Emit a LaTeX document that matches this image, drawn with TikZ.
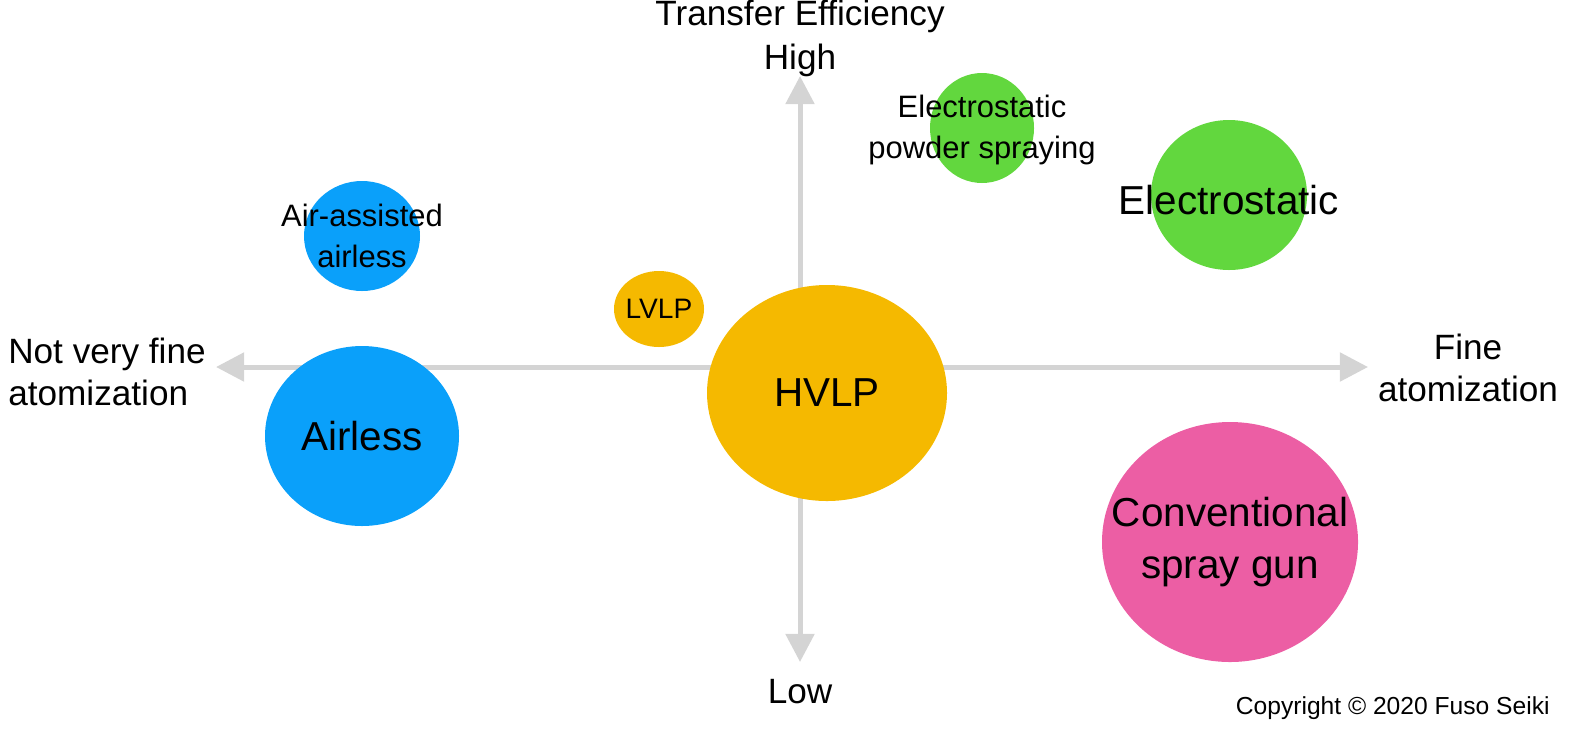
\documentclass[tikz,border=0pt]{standalone}
\usepackage{fontspec}
\setmainfont{Liberation Sans}
\usetikzlibrary{arrows.meta}

\definecolor{axisgray}{RGB}{212,212,212}
\definecolor{sprayblue}{RGB}{10,160,250}
\definecolor{sprayorange}{RGB}{245,185,0}
\definecolor{spraygreen}{RGB}{98,215,62}
\definecolor{spraypink}{RGB}{236,94,164}

\tikzset{
  axis/.style={draw=axisgray, line width=5pt*0.284, -{Triangle[length=8pt,width=8pt]}},
  blob/.style={fill=#1, draw=none},
  lbl/.style={align=center, font=\fontsize{10}{12}\selectfont},
  big/.style={align=center, font=\fontsize{11.5}{15}\selectfont},
  small/.style={align=center, font=\fontsize{8.8}{11.5}\selectfont}
}

\begin{document}
\begin{tikzpicture}[x=0.01cm, y=-0.01cm]
\useasboundingbox (0,0) rectangle (1586,730);

\coordinate (origin) at (800,367);
\coordinate (east) at (1368,367);
\coordinate (west) at (216,367);
\coordinate (north) at (800,76);
\coordinate (south) at (800,662);
\draw[axis] (origin) -- (east);
\draw[axis] (origin) -- (west);
\draw[axis] (origin) -- (north);
\draw[axis] (origin) -- (south);

\node[lbl] (teff) at (800,16) {Transfer Efficiency};
\node[lbl] (high) at (800,60) {High};
\node[lbl] (low) at (800,692) {Low};
\node[lbl, align=left] (coarse) at (107,372) {Not very fine\\atomization};
\node[lbl] (fine) at (1468,368) {Fine\\atomization};

% spray methods
\fill[blob=sprayblue] (362,236) ellipse [x radius=58, y radius=55];
\node[small] (aaa) at (362,236) {Air-assisted\\airless};
\fill[blob=sprayblue] (362,436) ellipse [x radius=97, y radius=90];
\node[big] (airless) at (362,436) {Airless};
\fill[blob=sprayorange] (659,309) ellipse [x radius=45, y radius=38];
\node[small, font=\fontsize{8}{10}\selectfont] (lvlp) at (659,309) {LVLP};
\fill[blob=sprayorange] (827,393) ellipse [x radius=120, y radius=108];
\node[big] (hvlp) at (827,393) {HVLP};
\fill[blob=spraygreen] (982,128) ellipse [x radius=52, y radius=55];
\node[small] (powder) at (982,130) {Electrostatic\\powder spraying};
\fill[blob=spraygreen] (1229,195) ellipse [x radius=78, y radius=75];
\node[big] (estat) at (1229,200) {Electrostatic};
\fill[blob=spraypink] (1230,542) ellipse [x radius=128, y radius=120];
\node[big] (conv) at (1230,542) {Conventional\\spray gun};

\node[font=\fontsize{7}{8}\selectfont, anchor=east] (copy) at (1562,708) {Copyright \textcopyright\ 2020 Fuso Seiki};
\end{tikzpicture}
\end{document}
